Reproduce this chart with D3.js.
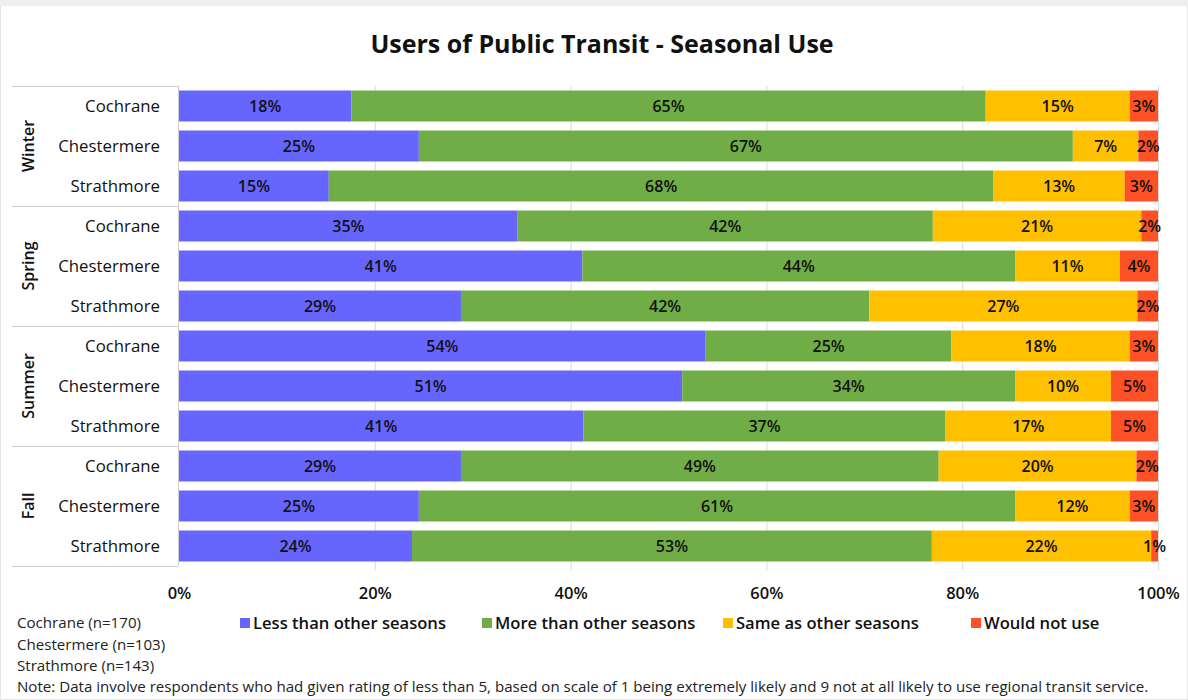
<!DOCTYPE html>
<html>
<head>
<meta charset="utf-8">
<script src="https://cdn.jsdelivr.net/npm/d3@7"></script>
<style>
  html, body { margin: 0; padding: 0; background: #fff; }
  svg { display: block; font-family: "Open Sans", "Noto Sans", sans-serif; }
</style>
</head>
<body>
<svg id="chart" width="1188" height="700"></svg>
<script>
// Survey results: seasonal use of public transit by town
const seasons = ["Winter", "Spring", "Summer", "Fall"];
const towns = ["Cochrane", "Chestermere", "Strathmore"];
const seriesNames = ["Less than other seasons", "More than other seasons", "Same as other seasons", "Would not use"];
const seriesColors = ["#6666FF", "#70AD47", "#FFC000", "#FF5126"];

// Percentages, one row per season x town (Winter..Fall, Cochrane/Chestermere/Strathmore)
const lessThan = [17.6, 24.5, 15.3, 34.6, 41.2, 28.8, 53.8, 51.4, 41.3, 28.8, 24.5, 23.8];
const moreThan = [64.8, 66.8, 67.9, 42.4, 44.2, 41.7, 25.1, 34.0, 37.0, 48.8, 60.9, 53.1];
const sameAs   = [14.7,  6.7, 13.4, 21.3, 10.7, 27.4, 18.2,  9.8, 16.9, 20.2, 11.7, 22.4];
const wouldNot = [ 2.9,  2.0,  3.4,  1.7,  3.9,  2.1,  2.9,  4.8,  4.8,  2.2,  2.9,  0.7];

const tickValues = [0, 20, 40, 60, 80, 100];
const sampleNotes = ["Cochrane (n=170)", "Chestermere (n=103)", "Strathmore (n=143)"];
const footNote = "Note: Data involve respondents who had given rating of less than 5, based on scale of 1 being extremely likely and 9 not at all likely to use regional transit service.";
const title = "Users of Public Transit - Seasonal Use";

const svg = d3.select("#chart");
const W = 1188, H = 700;

// light frame around the chart
svg.append("rect").attr("x", 0.5).attr("y", 0.5).attr("width", W - 1).attr("height", H - 1)
  .attr("fill", "#fff").attr("stroke", "#e6e6e6");
svg.append("rect").attr("x", 0).attr("y", 0).attr("width", W).attr("height", 6).attr("fill", "#efefef");

const plot = { left: 179, right: 1158, top: 86, bottom: 566 };

const rows = [];
seasons.forEach(s => towns.forEach(t => rows.push(s + "|" + t)));

const x = d3.scaleLinear().domain([0, 100]).range([plot.left, plot.right]);
const y = d3.scaleBand().domain(rows).range([plot.top, plot.bottom]).paddingInner(0.225).paddingOuter(0.1125);

// vertical gridlines
svg.append("g").selectAll("line").data(tickValues.slice(1)).join("line")
  .attr("x1", d => x(d) + 0.5).attr("x2", d => x(d) + 0.5)
  .attr("y1", plot.top).attr("y2", plot.bottom + 4)
  .attr("stroke", "#d9d9d9").attr("stroke-width", 1);

// stacked bars
const table = rows.map((key, i) => ({
  key,
  s0: lessThan[i], s1: moreThan[i], s2: sameAs[i], s3: wouldNot[i]
}));
const stack = d3.stack().keys(["s0", "s1", "s2", "s3"]);
const layers = stack(table);

const gBars = svg.append("g");
layers.forEach((layer, li) => {
  const g = gBars.append("g");
  g.selectAll("rect").data(layer).join("rect")
    .attr("x", d => x(d[0]))
    .attr("y", d => y(d.data.key))
    .attr("width", d => x(d[1]) - x(d[0]))
    .attr("height", y.bandwidth())
    .attr("fill", seriesColors[li]);
});
layers.forEach((layer, li) => {
  gBars.append("g").selectAll("text").data(layer).join("text")
    .attr("x", d => (x(d[0]) + x(d[1])) / 2)
    .attr("y", d => y(d.data.key) + y.bandwidth() / 2)
    .attr("dy", "0.35em")
    .attr("text-anchor", "middle")
    .attr("font-size", 16)
    .attr("font-weight", 600)
    .attr("fill", "#111")
    .text(d => Math.round(d[1] - d[0]) + "%");
});

// vertical axis line
svg.append("line").attr("x1", plot.left - 0.5).attr("x2", plot.left - 0.5)
  .attr("y1", plot.top).attr("y2", plot.bottom).attr("stroke", "#d0d0d0");

// x axis tick labels
const xAxis = d3.axisBottom(x).tickValues(tickValues).tickFormat(d => d + "%").tickSize(0).tickPadding(0);
const gx = svg.append("g").attr("transform", `translate(0, ${plot.bottom + 27})`).call(xAxis);
gx.select(".domain").remove();
gx.selectAll("text").attr("font-size", 16.5).attr("font-weight", 600).attr("fill", "#111")
  .attr("font-family", "\"Open Sans\", sans-serif").attr("dy", "0.35em");

// town labels
svg.append("g").selectAll("text").data(rows).join("text")
  .attr("x", 160)
  .attr("y", d => y(d) + y.bandwidth() / 2)
  .attr("dy", "0.35em")
  .attr("text-anchor", "end")
  .attr("font-size", 16.8)
  .attr("fill", "#111")
  .text(d => d.split("|")[1]);

// season groups: separators and rotated labels
const groupH = (plot.bottom - plot.top) / seasons.length;
const sepY = d3.range(seasons.length + 1).map(i => plot.top + i * groupH);
svg.append("g").selectAll("line").data(sepY).join("line")
  .attr("x1", 12).attr("x2", plot.left - 1)
  .attr("y1", d => d + 0.5).attr("y2", d => d + 0.5)
  .attr("stroke", "#d0d0d0");
svg.append("g").selectAll("text").data(seasons).join("text")
  .attr("transform", (d, i) => `translate(28, ${plot.top + groupH * (i + 0.5)}) rotate(-90)`)
  .attr("dy", "0.35em")
  .attr("text-anchor", "middle")
  .attr("font-size", 16)
  .attr("font-weight", 600)
  .attr("fill", "#111")
  .text(d => d);

// title
svg.append("text").attr("x", 602).attr("y", 44).attr("dy", "0.35em")
  .attr("text-anchor", "middle").attr("font-size", 25).attr("font-weight", 700)
  .attr("fill", "#111").text(title);

// legend
const legendX = [240, 482, 723, 971];
const lg = svg.append("g").selectAll("g").data(seriesNames).join("g")
  .attr("transform", (d, i) => `translate(${legendX[i]}, 623)`);
lg.append("rect").attr("x", 0).attr("y", -5).attr("width", 10).attr("height", 10)
  .attr("fill", (d, i) => seriesColors[i]);
lg.append("text").attr("x", 13).attr("dy", "0.35em").attr("font-size", 16.6).attr("font-weight", 600)
  .attr("fill", "#111").text(d => d);

// sample sizes and note
svg.append("g").selectAll("text").data(sampleNotes.concat([footNote])).join("text")
  .attr("x", 17)
  .attr("y", (d, i) => 623 + i * 21.3)
  .attr("dy", "0.35em")
  .attr("font-size", 15.1)
  .attr("fill", "#222")
  .text(d => d);
</script>
</body>
</html>
